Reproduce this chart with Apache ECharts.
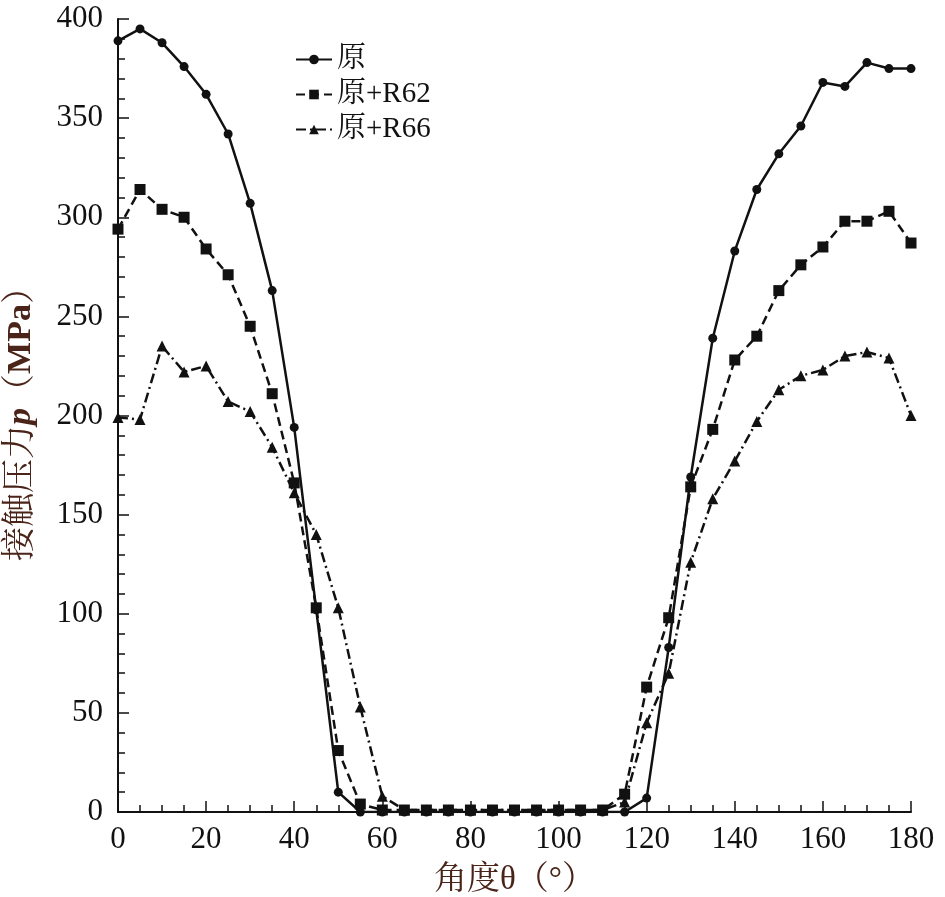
<!DOCTYPE html>
<html>
<head>
<meta charset="utf-8">
<script src="https://cdn.jsdelivr.net/npm/echarts@6/dist/echarts.min.js"></script>
<style>
  html, body { margin: 0; padding: 0; background: #fff; }
  #main { width: 945px; height: 897px; }
</style>
</head>
<body>
<div id="main"></div>
<script>
// 角度 0~180，每 5 度一个点
var angles = [0,5,10,15,20,25,30,35,40,45,50,55,60,65,70,75,80,85,90,95,100,105,110,115,120,125,130,135,140,145,150,155,160,165,170,175,180];

var yuan = [389,395,388,376,362,342,307,263,194,102,10,0,0,0,0,0,0,0,0,0,0,0,0,0,7,83,169,239,283,314,332,346,368,366,378,375,375];
var yuanR62 = [294,314,304,300,284,271,245,211,166,103,31,4,1,1,1,1,1,1,1,1,1,1,1,9,63,98,164,193,228,240,263,276,285,298,298,303,287];
var yuanR66 = [199,198,235,222,225,207,202,184,161,140,103,53,8,1,1,1,1,1,1,1,1,1,1,5,45,70,126,158,177,197,213,220,223,230,232,229,200];

var names = ['原', '原+R62', '原+R66'];

function pairs(arr) {
    var out = [];
    for (var i = 0; i < angles.length; i++) {
        out.push([angles[i], arr[i]]);
    }
    return out;
}

var serif = '"Liberation Serif","Noto Serif CJK SC","Noto Sans CJK SC",serif';
var nameColor = '#4a2418';

var myChart = echarts.init(document.getElementById('main'));

var option = {
    animation: false,
    backgroundColor: '#fff',
    grid: { left: 118, right: 34, top: 19, bottom: 85, containLabel: false, outerBoundsMode: 'none' },
    legend: {
        orient: 'vertical',
        left: 290,
        top: 40,
        itemWidth: 36,
        itemHeight: 12,
        itemGap: 6,
        textStyle: { fontFamily: serif, fontSize: 29, color: '#111' },
        data: names
    },
    xAxis: {
        type: 'value',
        min: 0,
        max: 180,
        interval: 20,
        name: '角度θ（°）',
        nameLocation: 'middle',
        nameGap: 52,
        nameTextStyle: { fontFamily: serif, fontSize: 33, color: nameColor },
        axisLine: { show: true, onZero: false, lineStyle: { color: '#111', width: 2 } },
        axisTick: { show: true, inside: true, length: 11, lineStyle: { color: '#111', width: 1.5 } },
        minorTick: { show: true, splitNumber: 4, length: 7, lineStyle: { color: '#111', width: 1.5 } },
        axisLabel: { fontFamily: serif, fontSize: 31, color: '#111', margin: 12 },
        splitLine: { show: false }
    },
    yAxis: {
        type: 'value',
        min: 0,
        max: 400,
        interval: 50,
        name: '{a|接触压力}{p|p}{a|（}{b|MPa}{a|）}',
        nameLocation: 'middle',
        nameGap: 80,
        nameRotate: 90,
        nameTextStyle: {
            fontFamily: serif, fontSize: 34, color: nameColor,
            rich: {
                a: { fontFamily: serif, fontSize: 34, color: nameColor },
                p: { fontFamily: serif, fontSize: 34, color: nameColor, fontStyle: 'italic', fontWeight: 'bold' },
                b: { fontFamily: serif, fontSize: 34, color: nameColor, fontWeight: 'bold' }
            }
        },
        axisLine: { show: true, onZero: false, lineStyle: { color: '#111', width: 2 } },
        axisTick: { show: true, inside: true, length: 11, lineStyle: { color: '#111', width: 1.5 } },
        minorTick: { show: true, splitNumber: 5, length: 7, lineStyle: { color: '#111', width: 1.5 } },
        axisLabel: { fontFamily: serif, fontSize: 31, color: '#111', margin: 15 },
        splitLine: { show: false }
    },
    series: [
        {
            name: names[0],
            type: 'line',
            data: pairs(yuan),
            symbol: 'circle',
            symbolSize: 9,
            itemStyle: { color: '#111' },
            lineStyle: { color: '#111', width: 2.5, type: 'solid' }
        },
        {
            name: names[1],
            type: 'line',
            data: pairs(yuanR62),
            symbol: 'rect',
            symbolSize: 11,
            itemStyle: { color: '#111' },
            lineStyle: { color: '#111', width: 2.5, type: [9, 5] }
        },
        {
            name: names[2],
            type: 'line',
            data: pairs(yuanR66),
            symbol: 'triangle',
            symbolSize: 11,
            itemStyle: { color: '#111' },
            lineStyle: { color: '#111', width: 2.5, type: [10, 4, 2, 4] }
        }
    ]
};

myChart.setOption(option);
</script>
</body>
</html>
